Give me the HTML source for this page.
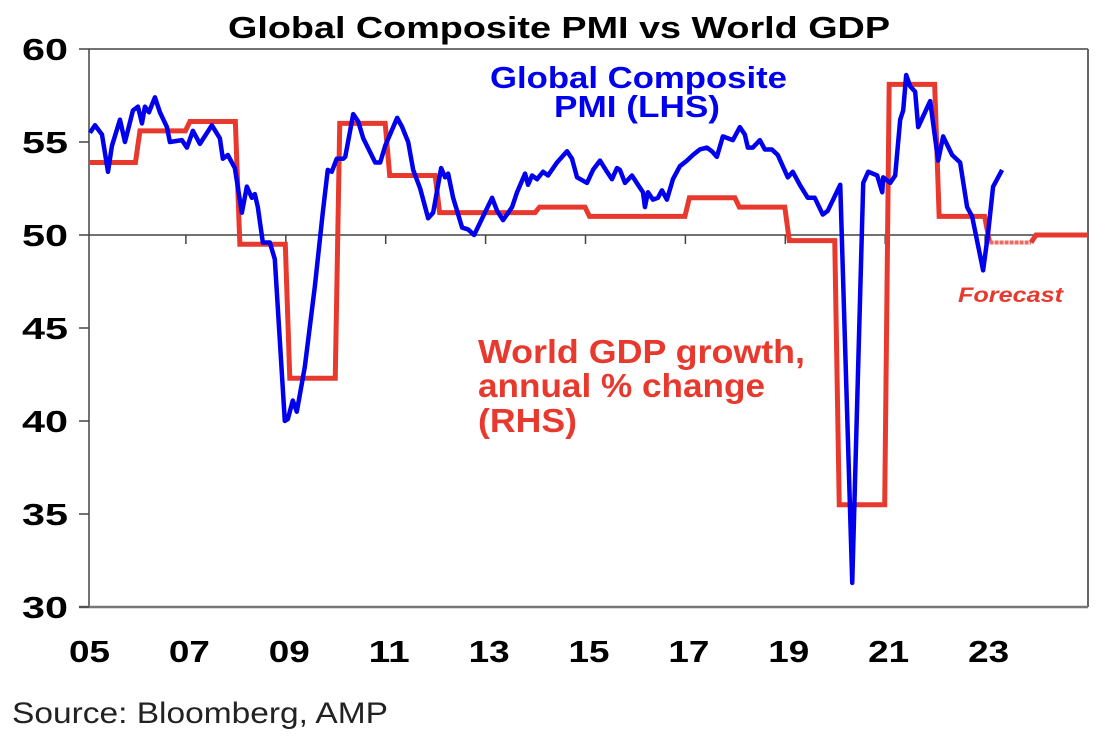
<!DOCTYPE html>
<html><head><meta charset="utf-8"><style>
body{margin:0;background:#fff;}
svg{display:block;font-family:"Liberation Sans",Arial,sans-serif;}
</style></head><body>
<svg id="chart" width="1116" height="738" viewBox="0 0 1116 738">
<text x="228" y="38" font-size="31" font-weight="bold" textLength="662" lengthAdjust="spacingAndGlyphs">Global Composite PMI vs World GDP</text>
<g id="axes"></g>
<g id="series"></g>
<text x="490" y="88" font-size="31" font-weight="bold" fill="#0000ee" textLength="297" lengthAdjust="spacingAndGlyphs">Global Composite</text>
<text x="554" y="117" font-size="31" font-weight="bold" fill="#0000ee" textLength="166" lengthAdjust="spacingAndGlyphs">PMI (LHS)</text>
<text x="478" y="363" font-size="33" font-weight="bold" fill="#e8392e" textLength="327" lengthAdjust="spacingAndGlyphs">World GDP growth,</text>
<text x="478" y="397" font-size="33" font-weight="bold" fill="#e8392e" textLength="287" lengthAdjust="spacingAndGlyphs">annual % change</text>
<text x="478" y="432" font-size="33" font-weight="bold" fill="#e8392e" textLength="99" lengthAdjust="spacingAndGlyphs">(RHS)</text>
<text x="958" y="302" font-size="21" font-weight="bold" font-style="italic" fill="#e8392e" textLength="105" lengthAdjust="spacingAndGlyphs">Forecast</text>
<text x="12" y="723" font-size="30" fill="#222" textLength="376" lengthAdjust="spacingAndGlyphs">Source: Bloomberg, AMP</text>
</svg>
<script>
const yTicks=[30,35,40,45,50,55,60];
const xTickLabels=["05","07","09","11","13","15","17","19","21","23"];
const xTickYears=[2005,2007,2009,2011,2013,2015,2017,2019,2021,2023];
const pmiDates=[2005.02,2005.12,2005.26,2005.38,2005.46,2005.62,2005.72,2005.88,2005.98,2006.06,2006.12,2006.20,2006.32,2006.42,2006.56,2006.62,2006.86,2006.96,2007.08,2007.22,2007.46,2007.62,2007.68,2007.78,2007.92,2008.06,2008.16,2008.26,2008.32,2008.38,2008.48,2008.62,2008.72,2008.92,2008.98,2009.08,2009.16,2009.32,2009.52,2009.68,2009.78,2009.86,2009.96,2010.09,2010.13,2010.29,2010.39,2010.49,2010.73,2010.83,2010.93,2011.17,2011.27,2011.39,2011.49,2011.63,2011.79,2011.89,2012.05,2012.13,2012.19,2012.29,2012.47,2012.59,2012.71,2012.89,2013.07,2013.17,2013.29,2013.47,2013.57,2013.73,2013.79,2013.87,2013.97,2014.09,2014.19,2014.37,2014.57,2014.67,2014.77,2014.97,2015.09,2015.23,2015.37,2015.47,2015.57,2015.63,2015.73,2015.87,2015.99,2016.09,2016.13,2016.19,2016.29,2016.39,2016.47,2016.57,2016.69,2016.83,2016.97,2017.09,2017.23,2017.37,2017.47,2017.57,2017.69,2017.79,2017.89,2018.03,2018.13,2018.19,2018.29,2018.43,2018.53,2018.67,2018.79,2018.89,2018.99,2019.09,2019.23,2019.39,2019.53,2019.69,2019.79,2020.04,2020.28,2020.50,2020.60,2020.78,2020.88,2020.90,2021.04,2021.14,2021.24,2021.30,2021.36,2021.44,2021.54,2021.60,2021.84,2022.00,2022.10,2022.28,2022.44,2022.58,2022.68,2022.90,2023.00,2023.10,2023.28];
const pmiValues=[55.5,55.9,55.4,53.4,54.8,56.2,55.0,56.7,56.9,56.0,56.9,56.6,57.4,56.6,55.8,55.0,55.1,54.7,55.6,54.9,55.9,55.2,54.1,54.3,53.6,51.2,52.6,52.0,52.2,51.5,49.6,49.6,48.7,40.0,40.1,41.1,40.5,42.9,47.2,51.2,53.5,53.4,54.1,54.1,54.2,56.5,56.1,55.2,53.9,53.9,54.8,56.3,55.8,55.0,53.5,52.5,50.9,51.2,53.6,53.1,53.3,52.0,50.4,50.3,50.0,51.0,52.0,51.3,50.8,51.5,52.3,53.3,52.7,53.2,53.0,53.4,53.2,53.9,54.5,54.1,53.1,52.8,53.5,54.0,53.4,53.0,53.6,53.5,52.8,53.2,52.7,52.3,51.5,52.3,51.9,52.0,52.4,51.9,53.0,53.7,54.0,54.3,54.6,54.7,54.5,54.2,55.3,55.2,55.1,55.8,55.4,54.7,54.7,55.1,54.6,54.6,54.3,53.7,53.1,53.4,52.7,52.0,52.0,51.1,51.3,52.7,31.3,52.8,53.4,53.2,52.3,53.1,52.8,53.2,56.2,56.7,58.6,58.0,57.7,55.8,57.2,54.0,55.3,54.3,53.9,51.5,51.0,48.1,50.1,52.6,53.5];
const gdpYears=[2005,2006,2007,2008,2009,2010,2011,2012,2013,2014,2015,2016,2017,2018,2019,2020,2021,2022,2023,2024];
const gdpValues=[53.9,55.6,56.1,49.5,42.3,56.0,53.2,51.2,51.2,51.5,51.0,51.0,52.0,51.5,49.7,35.5,58.1,51.0,49.6,50.0];
const forecastFrom=2023;

const NS="http://www.w3.org/2000/svg";
const L=89,R=1088,T=49,B=607;
const x=yr=>L+(yr-2005)*(R-L)/20;
const y=v=>T+(60-v)*(B-T)/30;
function mk(tag,attrs,parent){const e=document.createElementNS(NS,tag);for(const k in attrs)e.setAttribute(k,attrs[k]);parent.appendChild(e);return e;}
const axes=document.getElementById('axes'),series=document.getElementById('series');

let e=mk('line',{x1:L,y1:T,x2:R,y2:T,stroke:'#444','stroke-width':1.5},axes);


e=mk('line',{x1:R,y1:T,x2:R,y2:B,stroke:'#666','stroke-width':2},axes);


e=mk('line',{x1:L,y1:T,x2:L,y2:B,stroke:'#444','stroke-width':1.5},axes);


e=mk('line',{x1:L-10,y1:B,x2:R,y2:B,stroke:'#777','stroke-width':2.5},axes);


e=mk('line',{x1:L,y1:y(50),x2:R,y2:y(50),stroke:'#444','stroke-width':1.5},axes);



yTicks.forEach(v=>{
  const t=mk('line',{x1:L-10,y1:y(v),x2:L,y2:y(v),stroke:'#444','stroke-width':1.5},axes);
  
  
  const l=mk('text',{x:22,y:y(v)+11,'font-size':31,'font-weight':'bold',textLength:46,lengthAdjust:'spacingAndGlyphs'},axes);
  l.textContent=v;
  
  
});
xTickYears.forEach((yr,i)=>{
  if(i>0){const t=mk('line',{x1:x(yr)-3,y1:y(50),x2:x(yr)-3,y2:y(50)+9,stroke:'#444','stroke-width':1.5},axes);
  
  }
  const l=mk('text',{x:x(yr)-20,y:662,'font-size':31,'font-weight':'bold',textLength:41,lengthAdjust:'spacingAndGlyphs'},axes);
  l.textContent=xTickLabels[i];
  
  
});

let solid=[],dash=[];
gdpYears.forEach((yr,i)=>{
  const v=gdpValues[i];
  if(yr<forecastFrom){solid.push([x(yr+0.02),y(v)],[x(yr+0.93),y(v)]);}
  else if(yr===forecastFrom){solid.push([x(yr+0.03),y(v)]);dash.push([x(yr+0.03),y(v)],[x(yr+0.86),y(v)]);}
  else{dash.push([x(yr-0.04),y(v)],[x(yr+1),y(v)]);}
});
e=mk('polyline',{points:solid.map(p=>p.join(',')).join(' '),fill:'none',stroke:'#e8392e','stroke-width':5,'stroke-linejoin':'miter'},series);


e=mk('polyline',{points:dash.slice(0,2).map(p=>p.join(',')).join(' '),fill:'none',stroke:'#ee6a60','stroke-width':4,'stroke-dasharray':'4 1'},series);


e=mk('polyline',{points:[dash[1]].concat(dash.slice(2)).map(p=>p.join(',')).join(' '),fill:'none',stroke:'#e8392e','stroke-width':5},series);



e=mk('polyline',{points:pmiDates.map((d,i)=>x(d)+','+y(pmiValues[i])).join(' '),fill:'none',stroke:'#0000ee','stroke-width':4.5,'stroke-linejoin':'round'},series);


</script>
</body></html>
